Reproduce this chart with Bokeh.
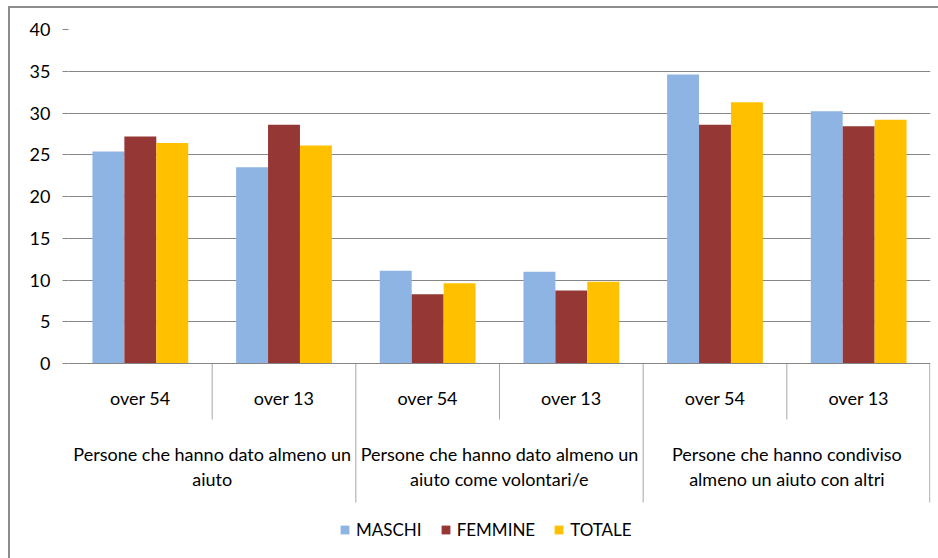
from bokeh.plotting import figure
from bokeh.models import FactorRange, Range1d, FixedTicker, Span, Legend, LegendItem, ColumnDataSource
from bokeh.transform import dodge
from bokeh.core.properties import value
from bokeh.embed import file_html
from bokeh.resources import INLINE

# ---- data ----
group_keys = ["G1", "G2", "G3"]
group_line1 = ["Persone che hanno dato almeno un", "Persone che hanno dato almeno un", "Persone che hanno condiviso"]
group_line2 = ["aiuto", "aiuto come volontari/e", "almeno un aiuto con altri"]
subcats = ["over 54", "over 13"]
series = ["MASCHI", "FEMMINE", "TOTALE"]
maschi = [25.4, 23.5, 11.1, 11.0, 34.6, 30.2]
femmine = [27.2, 28.6, 8.3, 8.75, 28.6, 28.4]
totale = [26.4, 26.1, 9.6, 9.8, 31.3, 29.2]
y_ticks = [0, 5, 10, 15, 20, 25, 30, 35, 40]

colors = ["#8EB4E3", "#953735", "#FFC000"]
FONT = "Lato"
TXT = "#000000"
GRID = "#868686"
SEP = "#a6a6a6"
FS = "18px"

factors = [(g, s) for g in group_keys for s in subcats]
src = ColumnDataSource(dict(x=factors, MASCHI=maschi, FEMMINE=femmine, TOTALE=totale))

# figure placed at (8, 6) on the page
px_per_unit = (363 - 29) / 40.0
y_bottom = -(558 - 363) / px_per_unit

p = figure(x_range=FactorRange(*factors, factor_padding=0, group_padding=0, range_padding=0),
           y_range=Range1d(y_bottom, 40),
           width=930, height=552,
           min_border_left=60, min_border_right=8, min_border_top=23, min_border_bottom=0,
           x_axis_location=None,
           output_backend="svg", toolbar_location=None)
p.styles = {"box-shadow": "inset 2px 2px 0 #8c8c8c", "margin-left": "8px", "margin-top": "6px"}
p.border_fill_color = None
p.outline_line_color = None
p.background_fill_color = None

# y axis
p.yaxis.ticker = FixedTicker(ticks=y_ticks)
p.yaxis.axis_line_color = None
p.yaxis.major_tick_in = 0
p.yaxis.major_tick_out = 6
p.yaxis.major_tick_line_color = GRID
p.yaxis.minor_tick_line_color = None
p.yaxis.major_label_standoff = 12
p.yaxis.major_label_text_font = FONT
p.yaxis.major_label_text_font_size = FS
p.yaxis.major_label_text_color = TXT

p.xgrid.visible = False
p.ygrid.ticker = FixedTicker(ticks=[5, 10, 15, 20, 25, 30, 35])
p.ygrid.grid_line_color = GRID
p.ygrid.grid_line_width = 1

# bars
w = 1 / 4.5
offsets = [-w, 0, w]
renderers = []
for s, c, off in zip(series, colors, offsets):
    r = p.vbar(x=dodge("x", off, range=p.x_range), top=s, width=w, bottom=0,
               source=src, fill_color=c, line_color=None)
    renderers.append(r)

# category axis line
p.add_layout(Span(location=0, dimension="width", line_color=GRID, line_width=1))

# separators (synthetic coordinates)
sub_y = -(419 - 363) / px_per_unit
grp_y = -(502 - 363) / px_per_unit
p.segment(x0=[1, 3, 5], x1=[1, 3, 5], y0=[0] * 3, y1=[sub_y] * 3, line_color=SEP, line_width=1)
p.segment(x0=[2, 4, 5.995], x1=[2, 4, 5.995], y0=[0] * 3, y1=[grp_y] * 3, line_color=SEP, line_width=1)

# sub-category labels
p.text(x=factors, y=[-(397 - 363) / px_per_unit] * 6, text=[f[1] for f in factors],
       text_font=value(FONT), text_font_size=FS, text_color=TXT,
       text_align="center", text_baseline="middle")

# group labels
p.text(x=group_keys, y=[-(453 - 363) / px_per_unit] * 3, text=group_line1,
       text_font=value(FONT), text_font_size=FS, text_color=TXT,
       text_align="center", text_baseline="middle")
p.text(x=group_keys, y=[-(478 - 363) / px_per_unit] * 3, text=group_line2,
       text_font=value(FONT), text_font_size=FS, text_color=TXT,
       text_align="center", text_baseline="middle")

legend = Legend(items=[LegendItem(label=s, renderers=[r]) for s, r in zip(series, renderers)],
                orientation="horizontal", location=(339 - 68, 18),
                glyph_width=11, glyph_height=11, label_standoff=6, spacing=18,
                padding=0, margin=0, border_line_color=None, background_fill_color=None,
                label_text_font=FONT, label_text_font_size="17px", label_text_color=TXT,
                label_height=20)
p.add_layout(legend, "center")

open("out.html", "w").write(file_html(p, INLINE))
